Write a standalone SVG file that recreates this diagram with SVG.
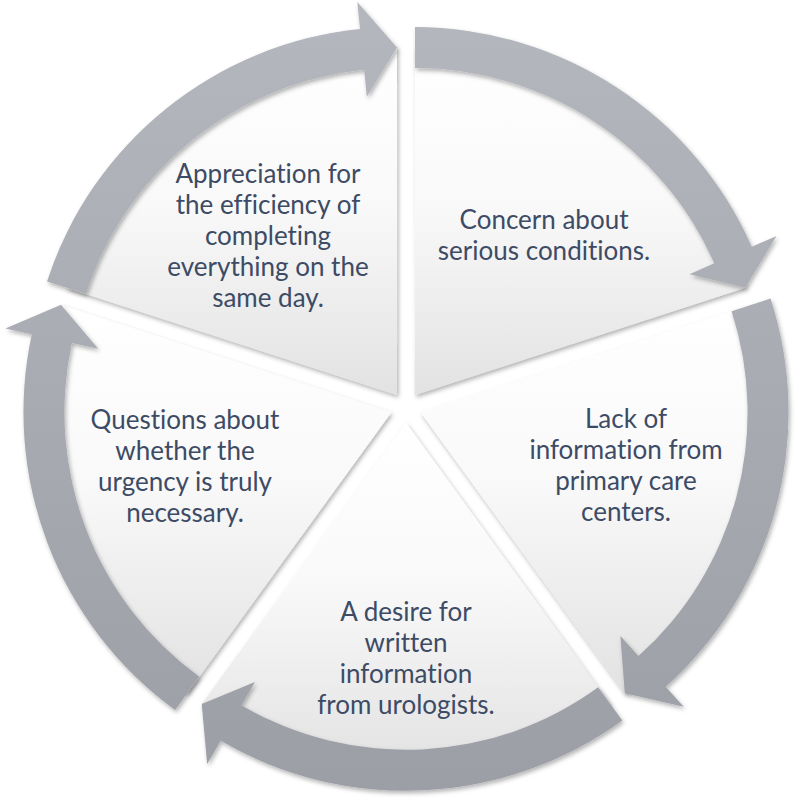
<svg xmlns="http://www.w3.org/2000/svg" width="797" height="805" viewBox="0 0 797 805">
<defs>
<linearGradient id="wedgeFill" x1="0" y1="0" x2="0" y2="1">
<stop offset="0" stop-color="#ffffff"/>
<stop offset="0.45" stop-color="#f9f9f9"/>
<stop offset="1" stop-color="#e2e2e2"/>
</linearGradient>
<linearGradient id="arrowFill" gradientUnits="userSpaceOnUse" x1="0" y1="0" x2="0" y2="805">
<stop offset="0" stop-color="#b5b7be"/>
<stop offset="1" stop-color="#9c9ea6"/>
</linearGradient>
<filter id="shadow" x="-10%" y="-10%" width="120%" height="120%">
<feDropShadow dx="1.5" dy="2.5" stdDeviation="2" flood-color="#000000" flood-opacity="0.3"/>
</filter>
</defs>
<style>
.wedge { fill: url(#wedgeFill); filter: url(#shadow); }
.arrow { fill: url(#arrowFill); filter: url(#shadow); }
.label { font-family: Lato, "Liberation Sans", sans-serif; font-size: 26px; fill: #3d4b65; text-anchor: middle; font-variant-ligatures: none; font-feature-settings: "liga" 0, "clig" 0, "dlig" 0; }
</style>
<rect width="797" height="805" fill="#ffffff"/>

<g id="node-appreciation">
<path class="wedge" d="M397.01,395.12 L66.52,287.74 A347.5,347.5 0 0 1 397.01,47.62 Z"/>
<text class="label"><tspan x="268" y="183">Appreciation for</tspan><tspan x="268" y="214">the efficiency of</tspan><tspan x="268" y="245">completing</tspan><tspan x="268" y="276">everything on the</tspan><tspan x="268" y="307">same day.</tspan></text>
</g>

<g id="node-concern">
<path class="wedge" d="M414.99,395.12 L414.99,47.62 A347.5,347.5 0 0 1 745.48,287.74 Z"/>
<text class="label"><tspan x="544" y="229">Concern about</tspan><tspan x="544" y="260">serious conditions.</tspan></text>
</g>

<g id="node-lack">
<path class="wedge" d="M420.55,412.23 L751.04,304.85 A347.5,347.5 0 0 1 624.81,693.36 Z"/>
<text class="label"><tspan x="626" y="428">Lack of</tspan><tspan x="626" y="459">information from</tspan><tspan x="626" y="490">primary care</tspan><tspan x="626" y="521">centers.</tspan></text>
</g>

<g id="node-desire">
<path class="wedge" d="M406,422.8 L610.26,703.93 A347.5,347.5 0 0 1 201.74,703.93 Z"/>
<text class="label"><tspan x="406" y="621">A desire for</tspan><tspan x="406" y="652">written</tspan><tspan x="406" y="683">information</tspan><tspan x="406" y="714">from urologists.</tspan></text>
</g>

<g id="node-questions">
<path class="wedge" d="M391.45,412.23 L187.19,693.36 A347.5,347.5 0 0 1 60.96,304.85 Z"/>
<text class="label"><tspan x="185" y="429">Questions about</tspan><tspan x="185" y="460">whether the</tspan><tspan x="185" y="491">urgency is truly</tspan><tspan x="185" y="522">necessary.</tspan></text>
</g>

<g id="connectors">
<path class="arrow" d="M414.99,27.12 A368,368 0 0 1 751.78,246.79 L776.49,235.91 L745.48,287.74 L689.54,274.20 L714.25,263.32 A327,327 0 0 0 414.99,68.12 Z"/>
<path class="arrow" d="M770.54,298.51 A368,368 0 0 1 665.69,686.70 L683.68,706.83 L624.81,693.36 L620.40,635.98 L638.38,656.12 A327,327 0 0 0 731.55,311.18 Z"/>
<path class="arrow" d="M622.31,720.52 A368,368 0 0 1 220.72,740.76 L207.13,764.09 L201.74,703.93 L254.96,682.01 L241.36,705.33 A327,327 0 0 0 598.21,687.35 Z"/>
<path class="arrow" d="M175.14,709.95 A368,368 0 0 1 31.80,334.27 L5.41,328.55 L60.96,304.85 L98.25,348.68 L71.87,342.96 A327,327 0 0 0 199.24,676.78 Z"/>
<path class="arrow" d="M47.02,281.40 A368,368 0 0 1 360.02,28.98 L357.30,2.11 L397.01,47.62 L366.85,96.63 L364.14,69.77 A327,327 0 0 0 86.01,294.07 Z"/>
</g>
</svg>
